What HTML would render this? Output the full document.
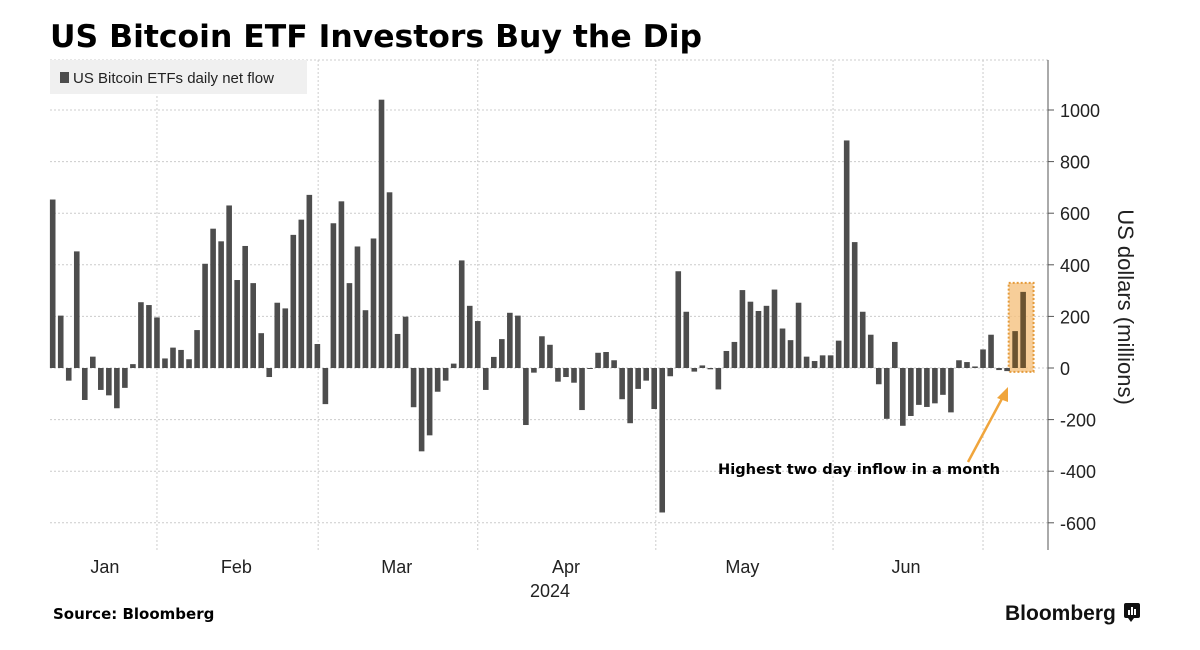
<!DOCTYPE html>
<html><head><meta charset="utf-8"><style>
body{margin:0;background:#fff;width:1200px;height:650px;overflow:hidden}
svg{display:block}
</style></head><body>
<svg id="chart" width="1200" height="650" xmlns="http://www.w3.org/2000/svg">
<text x="50" y="47" font-family="DejaVu Sans, sans-serif" font-weight="bold" font-size="31" fill="#000" textLength="652" lengthAdjust="spacingAndGlyphs">US Bitcoin ETF Investors Buy the Dip</text>
<g id="grid"></g>
<rect id="hl" fill="#f5c27f" fill-opacity="0.8" stroke="#e49a3a" stroke-width="2" stroke-dasharray="2,2"/>
<g id="bars"></g>
<rect x="50" y="60" width="257" height="34" fill="#f0f0f0"/>
<rect x="60" y="72" width="9" height="11" fill="#4d4d4d"/>
<text x="73" y="83" font-family="Liberation Sans, sans-serif" font-size="15" fill="#222">US Bitcoin ETFs daily net flow</text>
<g id="axis"></g>
<text transform="translate(1118,307) rotate(90)" text-anchor="middle" font-family="Liberation Sans, sans-serif" font-size="22" fill="#222">US dollars (millions)</text>
<g id="xlabels"></g>
<text x="550" y="597" text-anchor="middle" font-family="Liberation Sans, sans-serif" font-size="18" fill="#222">2024</text>
<line x1="968" y1="462" x2="1005" y2="393" stroke="#f0a53c" stroke-width="2.5"/>
<polygon points="1008,387 997,398 1008,402" fill="#f0a53c"/>
<text x="718" y="474" font-family="DejaVu Sans, sans-serif" font-weight="bold" font-size="14" fill="#000" textLength="282" lengthAdjust="spacingAndGlyphs">Highest two day inflow in a month</text>
<text x="53" y="619" font-family="DejaVu Sans, sans-serif" font-weight="bold" font-size="15" fill="#000">Source: Bloomberg</text>
<text x="1005" y="620" font-family="Liberation Sans, sans-serif" font-weight="bold" font-size="21" fill="#111">Bloomberg</text>
<g><rect x="1124" y="603" width="16" height="15" rx="2" fill="#111"/><polygon points="1128,618 1131,622 1134,618" fill="#111"/><rect x="1128" y="610" width="2" height="5" fill="#fff"/><rect x="1131" y="607" width="2" height="8" fill="#fff"/><rect x="1134" y="609" width="2" height="6" fill="#fff"/></g>
</svg>
<script>
const values=[653,203,-49,452,-124,44,-85,-106,-156,-77,15,255,244,196,37,79,70,34,147,404,540,491,630,341,473,329,135,-35,253,231,516,575,671,93,-140,561,646,329,471,224,502,1040,681,132,199,-152,-323,-261,-92,-49,17,417,241,182,-85,43,112,214,203,-221,-18,123,90,-53,-35,-57,-163,-3,59,62,30,-121,-214,-81,-49,-159,-560,-32,375,218,-14,10,-5,-83,66,101,302,257,221,241,304,153,108,253,44,27,49,49,106,882,488,218,129,-63,-197,101,-224,-186,-143,-151,-137,-104,-172,30,23,6,72,129,-8,-12,143,295];
const yTicks=[-600,-400,-200,0,200,400,600,800,1000];
const months=["Jan","Feb","Mar","Apr","May","Jun"];
const monthBoundIdx=[13.0,33.1,53.0,75.2,97.3,116.0];
const monthLabelIdx=[6.5,22.9,42.9,64,86,106.4];
const hlStart=119.2,hlEnd=122.3,hlTop=330;
const NS="http://www.w3.org/2000/svg";
const y=v=>368-v*0.258;
const x=i=>52.7+i*8.02;
function mk(t,a,p){const e=document.createElementNS(NS,t);for(const k in a)e.setAttribute(k,a[k]);p.appendChild(e);return e;}
const grid=document.getElementById('grid'),bars=document.getElementById('bars'),axis=document.getElementById('axis'),xl=document.getElementById('xlabels');
const gl=mk('line',{x1:50,x2:1048,y1:60,y2:60,stroke:'#ccc','stroke-dasharray':'2,2'},grid);


yTicks.forEach(v=>{
 const l=mk('line',{x1:50,x2:1048,y1:y(v),y2:y(v),stroke:'#ccc','stroke-dasharray':'2,2'},grid);
 
 
 const tk=mk('line',{x1:1048,x2:1054,y1:y(v),y2:y(v),stroke:'#555'},axis);
 
 
 const t=mk('text',{x:1060,y:y(v)+7,'font-family':'Liberation Sans, sans-serif','font-size':18,fill:'#222'},axis);
 t.textContent=v;
 
 
});
monthBoundIdx.forEach(m=>{
 const l=mk('line',{x1:x(m),x2:x(m),y1:60,y2:550,stroke:'#ccc','stroke-dasharray':'2,2'},grid);
 
 
});
const ax=mk('line',{x1:1048,x2:1048,y1:60,y2:550,stroke:'#555'},axis);


months.forEach((m,i)=>{
 const t=mk('text',{x:x(monthLabelIdx[i]),y:573,'text-anchor':'middle','font-family':'Liberation Sans, sans-serif','font-size':18,fill:'#222'},xl);
 t.textContent=m;
 
 
});
values.forEach((v,i)=>{
 const r=mk('rect',{x:x(i)-2.8,y:Math.min(y(v),y(0)),width:5.6,height:Math.max(1,Math.abs(y(v)-y(0))),fill:i>=120?'#6b5330':'#4d4d4d'},bars);
 
 
});
const hl=document.getElementById('hl');
hl.setAttribute('x',x(hlStart));hl.setAttribute('width',x(hlEnd)-x(hlStart));
hl.setAttribute('y',y(hlTop));hl.setAttribute('height',y(-15)-y(hlTop));
</script>
</body></html>
